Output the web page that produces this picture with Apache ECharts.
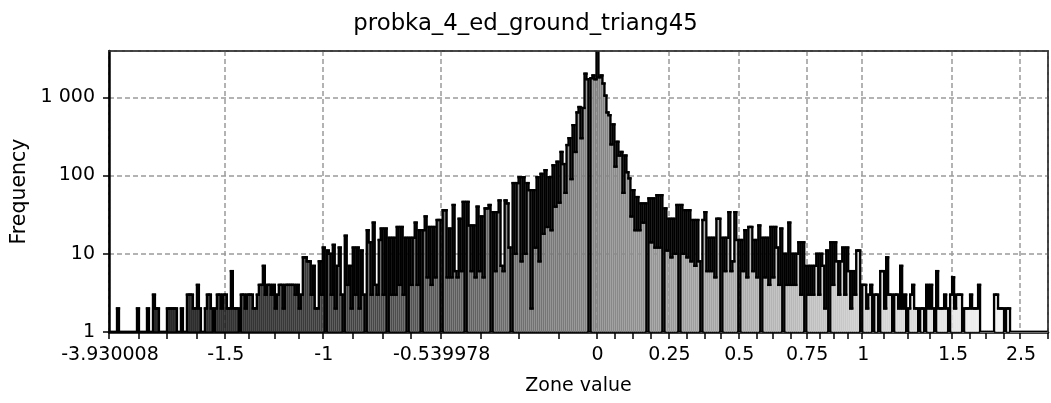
<!DOCTYPE html>
<html><head><meta charset="utf-8">
<script src="https://cdn.jsdelivr.net/npm/echarts@6/dist/echarts.min.js"></script>
<style>html,body{margin:0;padding:0;background:#fff}#c{width:1051px;height:403px}</style>
</head><body><div id="c"></div>
<script>
const chartTitle = 'probka_4_ed_ground_triang45';
const xName = 'Zone value';
const yName = 'Frequency';
const tickLabels = ['-3.930008','-1.5','-1','-0.539978','0','0.25','0.5','0.75','1','1.5','2.5'];
const tickBins = [0,58,107,166,244,280,315,349,377,422,456];
const yMax = 3900;
// frequency per bin (470 bins, left to right)
const freq = [
1,1,1,1,2,1,1,1,1,1,
1,1,1,1,2,1,1,1,1,2,
1,1,3,2,2,1,1,1,1,2,
2,2,2,2,1,1,2,1,1,3,
3,3,2,2,4,2,1,1,2,3,
3,2,1,2,3,3,2,3,3,2,
2,6,2,2,2,1,3,3,2,3,
3,3,2,2,3,4,4,7,3,4,
4,3,4,2,3,4,4,2,4,4,
4,4,4,3,4,2,3,9,9,8,
8,3,7,2,2,8,3,12,1,11,
10,3,13,2,7,12,3,1,17,4,
7,2,12,3,12,2,11,3,1,20,
14,3,25,4,3,15,21,3,21,1,
16,3,16,3,22,4,22,3,16,1,
16,4,16,25,4,20,1,20,30,5,
22,4,22,5,27,27,1,36,36,5,
21,5,42,6,5,28,6,46,1,46,
23,6,23,5,40,6,30,5,38,38,
42,1,34,6,34,48,7,6,48,44,
12,1,80,10,80,95,8,95,10,80,
65,2,65,12,95,8,105,18,117,22,
95,20,135,40,150,45,200,140,60,245,
300,90,440,200,640,750,300,730,2000,1700,
1,1750,1900,1700,4500,1800,1900,1500,1050,640,
590,250,450,130,270,180,200,60,180,110,
92,30,65,20,53,20,44,25,44,1,
51,14,51,12,56,12,56,1,38,11,
28,9,28,10,42,1,42,10,36,9,
36,8,27,7,27,8,1,27,34,6,
16,6,16,5,28,28,1,16,6,16,
34,6,8,34,15,1,15,6,20,5,
22,22,6,15,5,23,1,16,5,16,
4,22,5,22,12,4,21,1,10,4,
25,4,10,4,10,14,3,14,1,7,
3,7,3,7,10,3,10,7,2,11,
1,14,4,14,8,3,8,12,3,12,
6,2,6,3,11,11,1,4,4,2,
3,4,1,3,3,1,6,6,2,9,
3,3,1,3,3,2,7,2,3,1,
2,3,4,2,2,1,2,2,1,4,
2,4,2,1,6,2,2,2,3,2,
1,3,5,2,3,3,3,1,2,2,
2,3,2,2,2,4,1,1,1,1,
1,1,1,3,3,2,2,2,1,2,
2,1,1,1,1,1,1,1,1,1,
1,1,1,1,1,1,1,1,1,1
];

const FONT = 'DejaVu Sans';
const LW = 2.3; // outline thickness
const n = freq.length;
const bins = freq.map((_, i) => String(i));
const labelAt = {};
tickBins.forEach((b, k) => { labelAt[b] = tickLabels[k]; });
const majorSet = new Set(tickBins);
const minorSet = new Set();
for (let k = 0; k < tickBins.length - 1; k++) {
  const a = tickBins[k], b = tickBins[k + 1];
  for (let j = 1; j < 4; j++) minorSet.add(Math.round(a + (b - a) * j / 4));
}
function shade(i) {
  const g = Math.round(255 * i / (n - 1));
  return 'rgb(' + g + ',' + g + ',' + g + ')';
}
const barData = freq.map((v, i) => {
  const c = shade(i);
  return { value: v, itemStyle: { color: c, borderColor: c, borderWidth: 0.5 } };
});
// outline: each bin's top and its right-hand step to the next bin
const outlineData = freq.map((v, i) => [i, v, i + 1 < n ? freq[i + 1] : v]);
function fmtThousands(v) {
  return String(Math.round(v)).replace(/\B(?=(\d{3})+(?!\d))/g, ' ');
}
const gridLine = { color: '#9a9a9a', type: [5, 3], width: 1.5 };
const frame = { show: true, lineStyle: { color: '#333', width: 1.5 } };
const off = { show: false };

function renderOutline(params, api) {
  const i = api.value(0), v = api.value(1), vn = api.value(2);
  const top = api.coord([i, v]);
  const nxt = api.coord([i, vn]);
  const w = api.size([1, 1])[0];
  const xl = top[0] - w / 2, xr = top[0] + w / 2;
  const y1 = Math.min(top[1], nxt[1]), y2 = Math.max(top[1], nxt[1]);
  return {
    type: 'group',
    children: [
      { type: 'rect', shape: { x: xl - LW / 2, y: top[1] - LW / 2, width: w + LW, height: LW }, style: { fill: '#000' } },
      { type: 'rect', shape: { x: xr - LW / 2, y: y1 - LW / 2, width: LW, height: y2 - y1 + LW }, style: { fill: '#000' } }
    ]
  };
}

const chart = echarts.init(document.getElementById('c'), null, { renderer: 'canvas' });
chart.setOption({
  animation: false,
  backgroundColor: '#fff',
  title: {
    text: chartTitle, left: 'center', top: 8,
    textStyle: { fontFamily: FONT, fontSize: 22.8, fontWeight: 'normal', color: '#000' }
  },
  grid: { left: 109, right: 3, top: 51, bottom: 71, show: true, borderColor: '#333', borderWidth: 1.5, backgroundColor: '#fff' },
  xAxis: [{
    type: 'category', data: bins, boundaryGap: true,
    name: xName, nameLocation: 'middle', nameGap: 45,
    nameTextStyle: { fontFamily: FONT, fontSize: 19, color: '#000' },
    axisLine: { show: true, lineStyle: { color: '#000', width: 2.5 } },
    axisTick: { show: true, interval: (i) => majorSet.has(i) || minorSet.has(i), length: 7, lineStyle: { color: '#000', width: 1.5 } },
    axisLabel: { interval: (i) => majorSet.has(i), formatter: (v) => labelAt[Number(v)] || '', fontFamily: FONT, fontSize: 19, color: '#000', margin: 14 },
    splitLine: { show: true, interval: (i) => majorSet.has(i), lineStyle: gridLine }
  }, {
    type: 'category', data: bins, boundaryGap: true, position: 'top', z: 5,
    axisLine: frame, axisTick: off, axisLabel: off, splitLine: off
  }],
  yAxis: [{
    type: 'log', logBase: 10, min: 1, max: yMax,
    name: yName, nameLocation: 'middle', nameGap: 69, nameRotate: 90,
    nameTextStyle: { fontFamily: FONT, fontSize: 20.5, color: '#000' },
    axisLine: { show: true, lineStyle: { color: '#000', width: 2.5 } },
    axisTick: { show: true, length: 6, lineStyle: { color: '#000', width: 1.5 } },
    axisLabel: {
      fontFamily: FONT, fontSize: 19, color: '#000', margin: 14, showMaxLabel: false,
      formatter: (v) => { const l = Math.log10(v); return Math.abs(l - Math.round(l)) < 1e-6 ? fmtThousands(v) : ''; }
    },
    splitLine: { show: true, lineStyle: gridLine }
  }, {
    type: 'log', logBase: 10, min: 1, max: yMax, position: 'right', z: 5,
    axisLine: frame, axisTick: off, axisLabel: off, splitLine: off
  }],
  series: [
    { type: 'bar', xAxisIndex: 0, yAxisIndex: 0, data: barData, barCategoryGap: '0%', barGap: '0%', silent: true, emphasis: { disabled: true }, z: 2 },
    { type: 'custom', xAxisIndex: 0, yAxisIndex: 0, data: outlineData, encode: { x: 0, y: 1 }, renderItem: renderOutline, clip: true, silent: true, z: 3 }
  ]
});
</script>
</body></html>
